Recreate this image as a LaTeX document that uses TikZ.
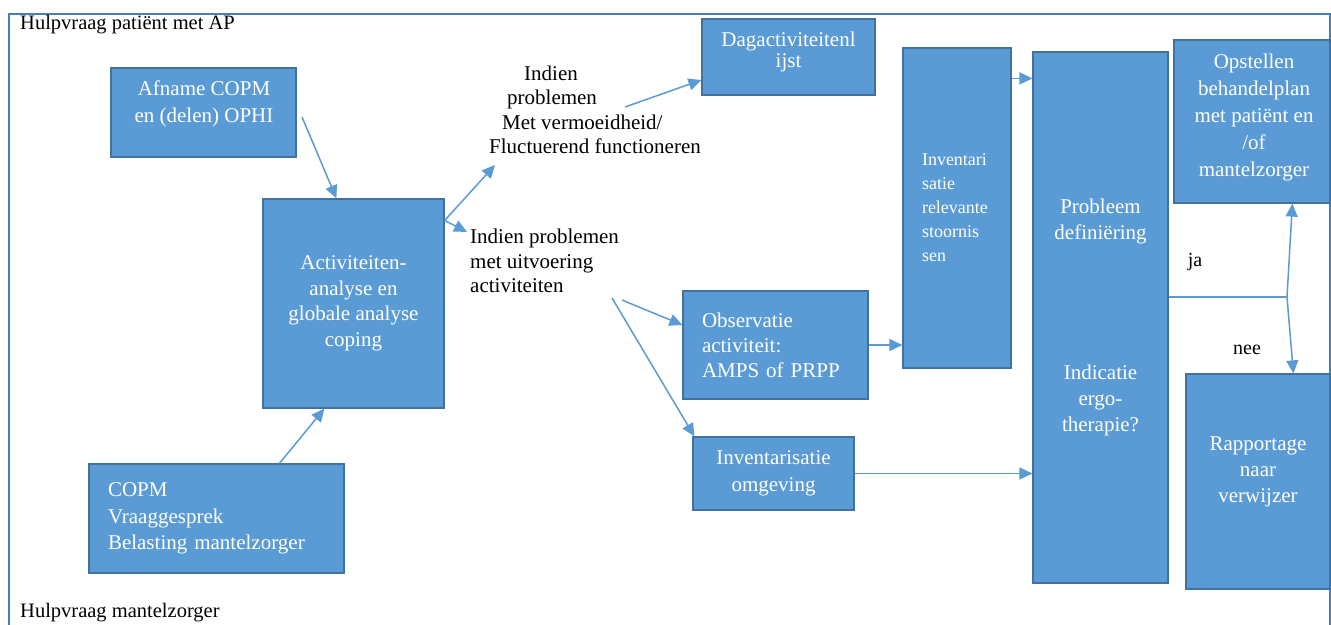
\documentclass[tikz,border=0pt]{standalone}
\usepackage{fontspec}
\setmainfont{Liberation Serif}
\usetikzlibrary{arrows.meta,calc}
\definecolor{boxfill}{HTML}{5B9BD5}
\definecolor{boxline}{HTML}{41719C}
\definecolor{arrowblue}{HTML}{5B9BD5}
\definecolor{framecol}{HTML}{4A7EBB}
\begin{document}
\begin{tikzpicture}[x=1pt,y=-1pt,
  box/.style={draw=boxline, line width=1.2pt, fill=boxfill, text=white,
    inner sep=0pt, align=center, font=\fontsize{21}{25.5}\selectfont},
  wtext/.style={text=white, inner sep=0pt, align=center,
    font=\fontsize{21}{26}\selectfont},
  btext/.style={text=black, inner sep=0pt, font=\fontsize{21}{24.5}\selectfont},
  arr/.style={draw=arrowblue, line width=1.5pt, -{Triangle[length=13pt,width=12pt]}},
  link/.style={draw=arrowblue, line width=1.5pt},
  border/.style={draw=framecol, line width=1.6pt}]

\useasboundingbox (0,0) rectangle (1331,624);
\clip (0,0) rectangle (1331,624);
\fill[white] (0,0) rectangle (1331,624);

% outer frame
\draw[border] (9,630) -- (9,14) -- (1330,14) -- (1330,630);

% titles
\node[btext, anchor=west, font=\fontsize{20.5}{24}\selectfont] (title1) at (20,25) {Hulpvraag patiënt met AP};
\node[btext, anchor=west, font=\fontsize{20.5}{24}\selectfont] (title2) at (20,613) {Hulpvraag mantelzorger};

% boxes
\node[box, minimum width=185pt, minimum height=89pt] (afname) at (203.5,112.5) {};
\node[wtext, font=\fontsize{21}{27}\selectfont] (afname-t) at (204,103.5) {Afname COPM\\en (delen) OPHI};

\node[box, minimum width=181pt, minimum height=209pt] (activ) at (353.5,303.5)
  {Activiteiten-\\analyse en\\globale analyse\\coping};

\node[box, minimum width=255pt, minimum height=109pt, text width=217pt, align=left,
  font=\fontsize{21}{26.5}\selectfont] (copm) at (216.5,518.5)
  {COPM\\Vraaggesprek\\Belasting mantelzorger};

\node[box, minimum width=173pt, minimum height=76pt] (dag) at (788.5,57) {};
\node[wtext, font=\fontsize{21}{21}\selectfont] (dag-t) at (788.5,52) {Dagactiviteitenl\\ijst};

\node[box, minimum width=108pt, minimum height=320pt, text width=70pt, align=left,
  font=\fontsize{18}{24}\selectfont] (invrel) at (957,208)
  {Inventari\\satie\\relevante\\stoornis\\sen};

\node[box, minimum width=185pt, minimum height=108pt, text width=147pt, align=left,
  font=\fontsize{21}{25}\selectfont] (obs) at (775.5,345)
  {Observatie\\activiteit:\\AMPS of PRPP};

\node[box, minimum width=161pt, minimum height=73pt, font=\fontsize{21}{27}\selectfont]
  (omg) at (773.5,473.5) {Inventarisatie\\omgeving};

\node[box, minimum width=135pt, minimum height=531pt, font=\fontsize{21}{26}\selectfont]
  (prob) at (1100.5,317.5)
  {Probleem\\definiëring\\[114pt]Indicatie\\ergo-\\therapie?};

\node[box, minimum width=156pt, minimum height=163pt, font=\fontsize{21}{27}\selectfont]
  (opst) at (1252,121.5) {};
\node[wtext, font=\fontsize{21}{27}\selectfont] (opst-t) at (1254,117.5)
  {Opstellen\\behandelplan\\met patiënt en\\/of\\mantelzorger};

\node[box, minimum width=144pt, minimum height=215pt] (rapp) at (1258,481.5) {};
\node[wtext] (rapp-t) at (1258,472) {Rapportage\\naar\\verwijzer};

% free labels
\node[btext, align=left] (upl) at (595,110)
  {\hspace*{35pt}Indien\\\hspace*{18pt}problemen\\\hspace*{13pt}Met vermoeidheid/\\Fluctuerend functioneren};
\node[btext, align=left, anchor=west] (lowl) at (470,261)
  {Indien problemen\\met uitvoering\\activiteiten};
\node[btext, font=\fontsize{20}{24}\selectfont] (ja) at (1195,262) {ja};
\node[btext, font=\fontsize{20}{24}\selectfont] (nee) at (1247,350) {nee};

% connectors
\coordinate (a1) at (302,117);
\draw[arr] (a1) -- ([xshift=74pt]activ.north west);
\draw[arr] ([xshift=191pt]copm.north west) -- ([xshift=62pt]activ.south west);

\coordinate (fork) at ([yshift=83pt]activ.east);
\coordinate (upl-in) at (495,165);
\draw[arr] (fork) -- (upl-in);
\draw[arr] (fork) -- ([xshift=-3pt,yshift=-3pt]lowl.north west);

\coordinate (upl-out) at (625,107);
\draw[arr] (upl-out) -- ([yshift=-23pt]dag.west);

\coordinate (lowl-o1) at (622,300);
\coordinate (lowl-o2) at (612,298);
\draw[arr] (lowl-o1) -- ([yshift=20pt]obs.west);
\draw[arr] (lowl-o2) -- ([xshift=2pt]omg.north west);

\draw[arr] (obs.east) -- (obs.east -| invrel.west);
\coordinate (inv-out) at ($(invrel.north east)+(0,31)$);
\draw[arr] (inv-out) -- (inv-out -| prob.west);
\draw[arr] (omg.east) -- (omg.east -| prob.west);

\coordinate (split) at (1287,297);
\draw[link] (split -| prob.east) -- (split);
\draw[arr] (split) -- ([xshift=119pt]opst.south west);
\draw[arr] (split) -- ([xshift=108pt]rapp.north west);

\end{tikzpicture}
\end{document}
